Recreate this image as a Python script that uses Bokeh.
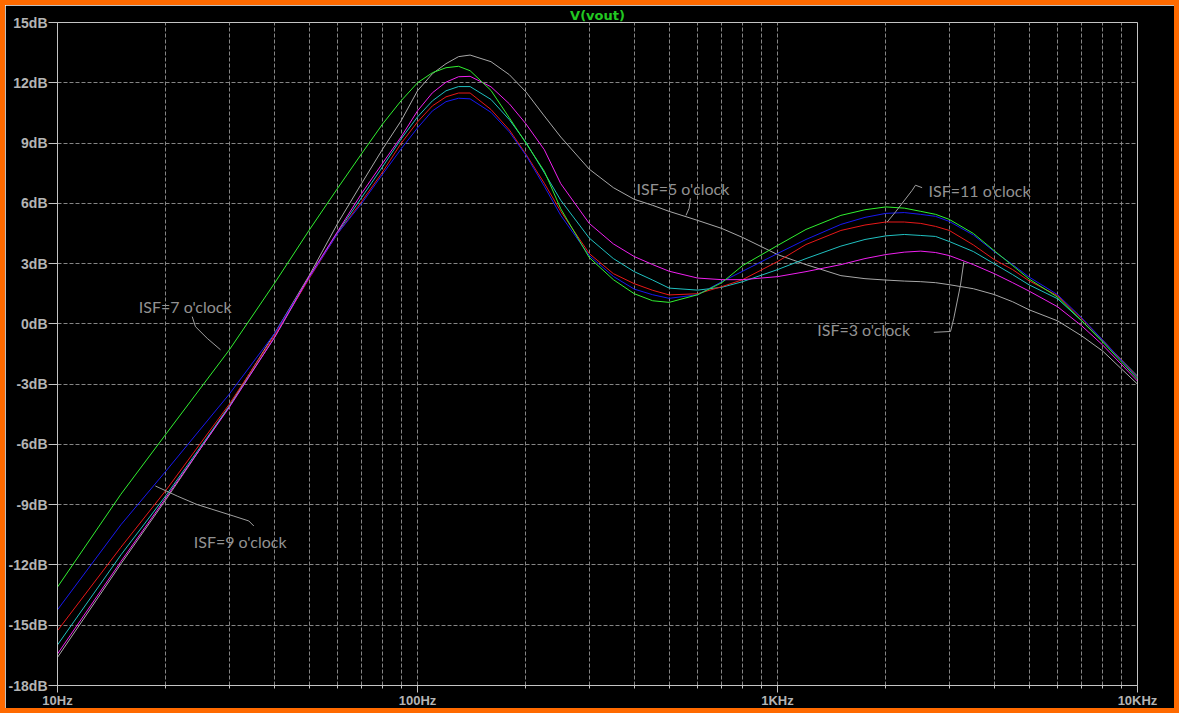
from bokeh.plotting import figure
from bokeh.models import Label, FixedTicker, Range1d
from bokeh.embed import file_html
from bokeh.resources import INLINE

# ---------------- data ----------------
freq_hz = [10, 15, 20, 30, 40, 50, 60, 70, 80, 90, 100, 110, 120, 130, 140, 160, 180,
           200, 225, 250, 300, 350, 400, 450, 500, 600, 700, 800, 1000, 1200, 1500, 1750,
           2000, 2250, 2500, 2750, 3000, 3500, 4000, 4500, 5000, 6000, 7000, 8000, 10000]

isf5_gray = [-16.6, -11.95, -8.75, -4.1, -0.5, 2.4, 5.0, 7.0, 8.7, 10.1, 11.6, 12.45, 12.95,
             13.3, 13.38, 13.05, 12.4, 11.55, 10.35, 9.3, 7.7, 6.78, 6.2, 5.9, 5.6, 5.15, 4.75,
             4.3, 3.45, 2.95, 2.4, 2.25, 2.18, 2.13, 2.1, 2.05, 1.95, 1.75, 1.46, 1.1, 0.7,
             0.15, -0.6, -1.35, -3.0]

isf7_green = [-13.1, -8.48, -5.49, -1.3, 2.0, 4.66, 6.75, 8.48, 9.95, 11.1, 12.0, 12.5, 12.75,
              12.82, 12.6, 11.62, 10.25, 9.0, 7.6, 5.73, 3.3, 2.2, 1.5, 1.15, 1.07, 1.45, 2.05,
              2.9, 3.9, 4.7, 5.4, 5.68, 5.82, 5.76, 5.6, 5.45, 5.2, 4.5, 3.64, 2.9, 2.23,
              1.33, 0.15, -0.9, -2.75]

isf9_blue = [-14.23, -10.0, -7.33, -3.5, -0.5, 2.3, 4.5, 6.0, 7.45, 8.7, 9.75, 10.6, 11.06,
             11.23, 11.2, 10.53, 9.55, 8.4, 6.85, 5.4, 3.4, 2.36, 1.73, 1.45, 1.27, 1.45, 2.1,
             2.62, 3.5, 4.2, 4.95, 5.3, 5.5, 5.54, 5.45, 5.35, 5.1, 4.42, 3.6, 2.95, 2.33,
             1.45, 0.3, -0.8, -2.7]

isf11_red = [-15.27, -11.12, -8.29, -4.0, -0.6, 2.25, 4.5, 6.1, 7.56, 8.98, 10.05, 10.85, 11.3,
             11.49, 11.49, 10.67, 9.65, 8.45, 7.0, 5.6, 3.5, 2.5, 2.0, 1.67, 1.44, 1.5, 1.85,
             2.2, 3.1, 3.95, 4.65, 4.92, 5.07, 5.07, 5.0, 4.85, 4.65, 3.93, 3.2, 2.7, 2.14,
             1.4, 0.25, -0.8, -2.65]

isf1_cyan = [-15.98, -11.5, -8.55, -4.1, -0.7, 2.3, 4.55, 6.3, 7.82, 9.2, 10.3, 11.1, 11.6,
             11.81, 11.81, 11.17, 10.16, 9.04, 7.53, 6.15, 4.27, 3.25, 2.6, 2.18, 1.78, 1.68,
             1.82, 2.1, 2.7, 3.25, 3.87, 4.2, 4.38, 4.45, 4.4, 4.35, 4.1, 3.6, 2.99, 2.45, 1.94,
             1.25, 0.15, -0.85, -2.6]

isf3_magenta = [-16.43, -11.83, -8.66, -4.16, -0.7, 2.35, 4.6, 6.5, 8.0, 9.3, 10.6, 11.5, 12.03,
                12.3, 12.32, 11.8, 10.95, 9.96, 8.67, 6.98, 5.0, 3.98, 3.35, 2.95, 2.62, 2.28,
                2.2, 2.2, 2.35, 2.6, 2.95, 3.25, 3.45, 3.57, 3.62, 3.55, 3.4, 2.95, 2.5, 2.05,
                1.63, 0.85, -0.1, -1.05, -2.85]

x_major_ticks = [10, 100, 1000, 10000]
x_tick_labels = ["10Hz", "100Hz", "1KHz", "10KHz"]
x_minor_ticks = [20, 30, 40, 50, 60, 70, 80, 90,
                 200, 300, 400, 500, 600, 700, 800, 900,
                 2000, 3000, 4000, 5000, 6000, 7000, 8000, 9000]
y_ticks = [-18, -15, -12, -9, -6, -3, 0, 3, 6, 9, 12, 15]
y_tick_labels = ["-18dB", "-15dB", "-12dB", "-9dB", "-6dB", "-3dB", "0dB",
                 "3dB", "6dB", "9dB", "12dB", "15dB"]

title_text = "V(vout)"

# annotations: text, anchor (Hz, dB), leader polyline (Hz list, dB list)
annotations = [
    ("ISF=5 o'clock", 405.8, 6.76, [573, 568, 557], [6.25, 5.75, 5.40]),
    ("ISF=11 o'clock", 2627, 6.64, [2522, 2417, 2367, 2127, 2017], [6.78, 6.9, 6.65, 5.57, 5.07]),
    ("ISF=3 o'clock", 1289.5, -0.29, [2718, 3024, 3088, 3223, 3293], [-0.42, -0.38, 0.28, 1.93, 3.09]),
    ("ISF=7 o'clock", 16.82, 0.86, [23.67, 24.17, 26.05, 28.37], [0.36, -0.14, -0.72, -1.29]),
    ("ISF=9 o'clock", 23.9, -10.81, [35.1, 34.0, 30.9, 24.4, 21.5, 18.7], [-10.06, -9.81, -9.57, -8.99, -8.57, -8.07]),
]

# ---------------- figure ----------------
ORANGE = "#FF6A00"
AXIS_C = "#c4c4c4"
GRID_C = "#858585"
LABEL_C = "#b4b4b4"
NOTE_C = "#929292"

p = figure(width=1179, height=713, x_axis_type="log",
           x_range=Range1d(10, 10000), y_range=Range1d(-18, 15),
           output_backend="svg", toolbar_location=None,
           min_border_left=52, min_border_right=47, min_border_top=15, min_border_bottom=33,
           background_fill_color="black", border_fill_color="black",
           outline_line_color=AXIS_C, outline_line_width=1)
p.styles = {"border": "5px solid " + ORANGE}

p.title.text = title_text
p.title.align = "center"
p.title.text_color = "#22c822"
p.title.text_font = "DejaVu Sans"
p.title.text_font_style = "bold"
p.title.text_font_size = "13px"
p.title.standoff = 0
p.title.offset = 0

p.xaxis.ticker = FixedTicker(ticks=x_major_ticks, minor_ticks=x_minor_ticks)
p.yaxis.ticker = FixedTicker(ticks=y_ticks, minor_ticks=[])
p.xaxis.major_label_overrides = {v: t for v, t in zip(x_major_ticks, x_tick_labels)}
p.yaxis.major_label_overrides = {v: t for v, t in zip(y_ticks, y_tick_labels)}
for ax in (p.xaxis[0], p.yaxis[0]):
    ax.major_label_text_font = "Liberation Sans"
    ax.major_label_text_font_style = "bold"
    ax.major_label_text_color = LABEL_C
    ax.axis_line_color = AXIS_C
    ax.major_tick_line_color = AXIS_C
    ax.minor_tick_line_color = AXIS_C
    ax.major_tick_in = 0
    ax.minor_tick_in = 0
p.yaxis.major_label_text_font_size = "14px"
p.xaxis.major_label_text_font_size = "13px"
p.xaxis.major_tick_out = 7
p.xaxis.minor_tick_out = 3
p.xaxis.major_label_standoff = 0
p.yaxis.major_tick_out = 9
p.yaxis.major_label_standoff = 1
p.yaxis.minor_tick_line_color = None

p.xgrid.grid_line_color = GRID_C
p.xgrid.grid_line_dash = "4 2"
p.xgrid.minor_grid_line_color = GRID_C
p.xgrid.minor_grid_line_dash = "4 2"
p.ygrid.grid_line_color = GRID_C
p.ygrid.grid_line_dash = "4 2"

# curves
series = [
    (isf5_gray, "#a8a8a8"),
    (isf1_cyan, "#20c0c0"),
    (isf11_red, "#e81818"),
    (isf9_blue, "#1818f0"),
    (isf3_magenta, "#f020f0"),
    (isf7_green, "#30f030"),
]
for ys, c in series:
    p.line(freq_hz, ys, line_color=c, line_width=1)

# annotations
for text, fx, fy, lx, ly in annotations:
    p.line(lx, ly, line_color="#a0a0a0", line_width=1)
    p.add_layout(Label(x=fx, y=fy, text=text, text_align="left", text_baseline="middle",
                       text_color=NOTE_C, text_font="Lato", text_font_size="16px"))

open("out.html", "w").write(file_html(p, INLINE))
